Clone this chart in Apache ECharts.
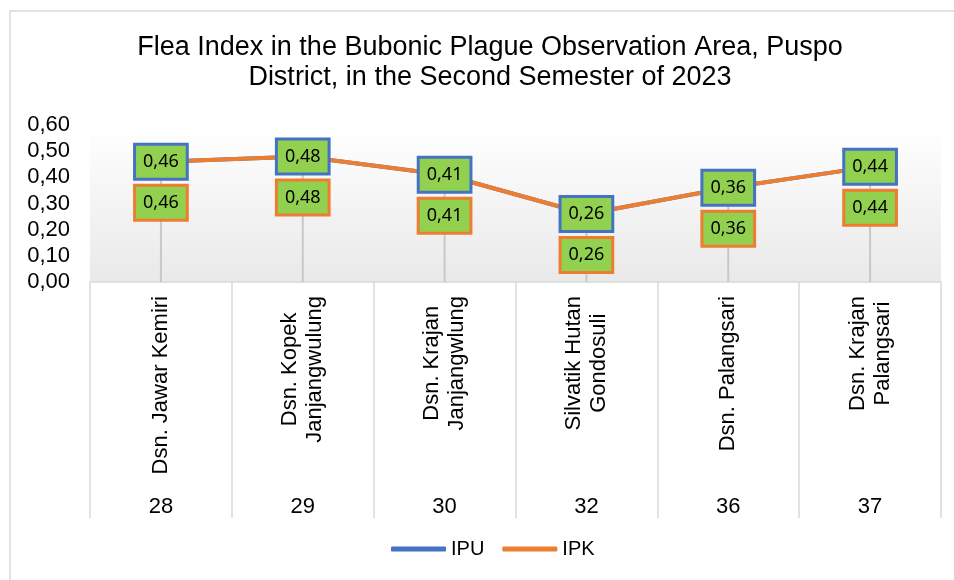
<!DOCTYPE html>
<html>
<head>
<meta charset="utf-8">
<script src="https://cdn.jsdelivr.net/npm/echarts@6/dist/echarts.min.js"></script>
<style>
  html, body { margin: 0; padding: 0; background: #fff; }
  #chart { width: 954px; height: 580px; }
</style>
</head>
<body>
<div id="chart"></div>
<script>
// data
const villages = ['Dsn. Jawar Kemiri', 'Dsn. Kopek\nJanjangwulung', 'Dsn. Krajan\nJanjangwlung', 'Silvatik Hutan\nGondosuli', 'Dsn. Palangsari', 'Dsn. Krajan\nPalangsari'];
const codes = ['28', '29', '30', '32', '36', '37'];
const ipu = [0.46, 0.48, 0.41, 0.26, 0.36, 0.44];
const ipk = [0.46, 0.48, 0.41, 0.26, 0.36, 0.44];

const FONT = 'Liberation Sans';
const comma = v => Number(v).toFixed(2).replace('.', ',');

let myChart = echarts.init(document.getElementById('chart'));

const boxLabel = (border, offset) => ({
  show: true,
  position: 'inside',
  offset: offset,
  formatter: p => comma(p.value),
  fontFamily: 'Noto Sans',
  fontSize: 18,
  color: '#000',
  lineHeight: 22,
  backgroundColor: '#92d050',
  borderColor: border,
  borderWidth: 3,
  padding: [5, 7]
});

const option = {
  animation: false,
  backgroundColor: '#fff',
  title: {
    text: 'Flea Index in the Bubonic Plague Observation Area, Puspo\nDistrict, in the Second Semester of 2023',
    left: 490,
    top: 33,
    padding: 0,
    textAlign: 'center',
    textStyle: { fontFamily: FONT, fontSize: 27, fontWeight: 'normal', color: '#000', lineHeight: 30 }
  },
  graphic: [
    // chart area border
    { type: 'rect', shape: { x: 10, y: 11, width: 980, height: 600 }, style: { fill: 'none', stroke: '#d9d9d9', lineWidth: 1.5 }, silent: true }
  ],
  legend: {
    data: ['IPU', 'IPK'],
    left: 391,
    top: 539,
    padding: 0,
    icon: 'roundRect',
    itemWidth: 55,
    itemHeight: 5,
    itemGap: 18,
    textStyle: { fontFamily: FONT, fontSize: 20, color: '#000' }
  },
  grid: {
    left: 90,
    right: 13,
    top: 125,
    bottom: 298,
    show: true,
    borderWidth: 0,
    backgroundColor: new echarts.graphic.LinearGradient(0, 0, 0, 1, [
      { offset: 0, color: '#ffffff' },
      { offset: 1, color: '#e9e9e9' }
    ])
  },
  xAxis: [
    {
      type: 'category',
      data: villages,
      axisLine: { lineStyle: { color: '#d9d9d9', width: 1.5 } },
      axisTick: { show: true, length: 236, lineStyle: { color: '#d9d9d9', width: 1.5 } },
      axisLabel: {
        interval: 0,
        rotate: 90,
        margin: 14,
        fontFamily: FONT,
        fontSize: 22,
        color: '#000',
        formatter: v => v.split('\n').map(s => '{c|' + s + '}').join('\n'),
        rich: { c: { align: 'center', fontFamily: FONT, fontSize: 22, lineHeight: 25, color: '#000' } }
      }
    },
    {
      type: 'category',
      data: codes,
      position: 'bottom',
      offset: 208,
      axisLine: { show: false },
      axisTick: { show: false },
      axisLabel: { interval: 0, margin: 6, fontFamily: FONT, fontSize: 22, color: '#000' }
    }
  ],
  yAxis: {
    type: 'value',
    min: 0,
    max: 0.6,
    interval: 0.1,
    axisLine: { show: false },
    axisTick: { show: false },
    splitLine: { show: false },
    axisLabel: { formatter: comma, margin: 20, fontFamily: FONT, fontSize: 22, color: '#000' }
  },
  series: [
    {
      // drop lines from the points to the axis
      type: 'bar',
      data: ipu,
      barWidth: 2,
      silent: true,
      itemStyle: { color: '#c8c8c8' },
      z: 1
    },
    {
      name: 'IPU',
      type: 'line',
      data: ipu,
      symbol: 'none',
      lineStyle: { color: '#4472c4', width: 4 },
      itemStyle: { color: '#4472c4' },
      z: 3
    },
    {
      name: 'IPK',
      type: 'line',
      data: ipk,
      symbol: 'none',
      lineStyle: { color: '#ed7d31', width: 4 },
      itemStyle: { color: '#ed7d31' },
      z: 4
    },
    {
      // data labels, kept above both lines
      name: 'IPU labels',
      type: 'scatter',
      data: ipu,
      symbolSize: 1,
      silent: true,
      itemStyle: { color: 'rgba(0,0,0,0)', opacity: 1 },
      label: boxLabel('#4472c4', [0, 0]),
      z: 6
    },
    {
      name: 'IPK labels',
      type: 'scatter',
      data: ipk,
      symbolSize: 1,
      silent: true,
      itemStyle: { color: 'rgba(0,0,0,0)', opacity: 1 },
      label: boxLabel('#ed7d31', [0, 41]),
      z: 6
    }
  ]
};

myChart.setOption(option);
</script>
</body>
</html>
